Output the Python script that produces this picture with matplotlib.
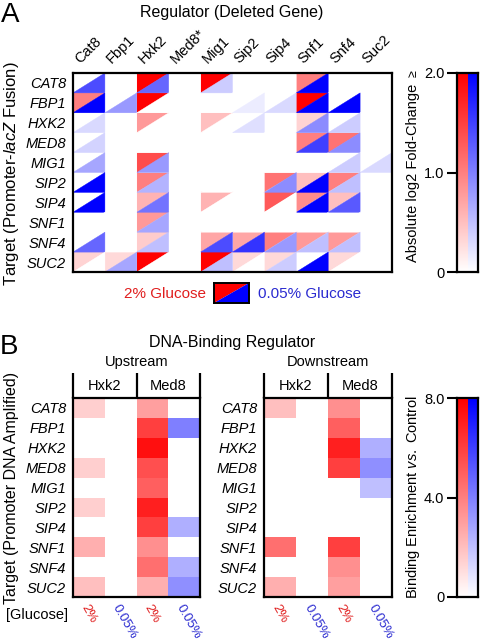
import numpy as np
import matplotlib
matplotlib.use("Agg")
import matplotlib.pyplot as plt
import matplotlib.transforms as mtrans
from matplotlib.collections import PolyCollection
from matplotlib.colors import LinearSegmentedColormap, Normalize

plt.rcParams['font.family'] = ['Liberation Sans', 'DejaVu Sans']
plt.rcParams['mathtext.fontset'] = 'custom'
plt.rcParams['mathtext.rm'] = 'Liberation Sans'
plt.rcParams['mathtext.it'] = 'Liberation Sans:italic'

# ---- panel A data: absolute log2 fold-change, rows = target, cols = deleted regulator
regulators = ['Cat8', 'Fbp1', 'Hxk2', 'Med8*', 'Mig1', 'Sip2', 'Sip4', 'Snf1', 'Snf4', 'Suc2']
targets = ['CAT8', 'FBP1', 'HXK2', 'MED8', 'MIG1', 'SIP2', 'SIP4', 'SNF1', 'SNF4', 'SUC2']

fc_2pct = [
    [0, 0, 2.0, 0, 2.0, 0, 0, 1.0, 0, 0],
    [1.0, 0, 2.0, 0, 0, 0, 0, 2.0, 0, 0],
    [0, 0, 0.8, 0, 0.5, 0, 0, 0.35, 0, 0],
    [0, 0, 0, 0, 0, 0, 0, 1.0, 1.1, 0],
    [0, 0, 1.4, 0, 0, 0, 0, 0, 0, 0],
    [0, 0, 1.0, 0, 0, 0, 1.1, 0.5, 1.0, 0],
    [0, 0, 0.6, 0, 0.6, 0, 1.3, 0.9, 0.5, 0],
    [0, 0, 0.8, 0, 0, 0, 0, 0, 0, 0],
    [0, 0, 0.4, 0, 0.7, 0.7, 1.0, 0.8, 0.8, 0],
    [0.35, 0.3, 2.0, 0, 2.0, 0.3, 0.3, 0, 0.3, 0],
]
fc_005pct = [
    [1.4, 0, 1.2, 0, 0.4, 0, 0, 2.0, 0, 0],
    [2.0, 0.8, 0, 0, 0, 0.15, 0.3, 2.0, 2.0, 0],
    [0.3, 0, 0, 0, 0, 0.25, 0, 0.9, 0.4, 0],
    [0.35, 0, 0, 0, 0, 0, 0, 1.5, 0.9, 0],
    [0.7, 0, 0.8, 0, 0, 0, 0, 0, 0.4, 0.3],
    [2.0, 0, 0.6, 0, 0, 0, 0.9, 2.0, 0.5, 0],
    [2.0, 0, 1.1, 0, 0, 0, 0, 2.0, 1.3, 0],
    [0, 0, 0.7, 0, 0, 0, 0, 0, 0, 0],
    [1.2, 0, 0.5, 0, 1.4, 1.6, 0.8, 0.5, 0.5, 0],
    [0, 0.7, 0, 0, 0.5, 0, 0.4, 2.0, 0, 0],
]

# ---- panel B data: binding enrichment vs control
up_hxk2_2 = [1.5, 0, 0, 1.5, 0, 1.5, 0, 2.5, 0, 2.0]
up_hxk2_005 = [0, 0, 0, 0, 0, 0, 0, 0, 0, 0]
up_med8_2 = [3.0, 6.0, 7.5, 5.5, 5.0, 7.0, 6.0, 3.5, 4.5, 2.5]
up_med8_005 = [0, 4.0, 0, 0, 0, 0, 2.5, 0, 2.5, 3.5]
down_hxk2_2 = [2.0, 0, 0, 0, 0, 0, 0, 4.5, 0, 2.5]
down_hxk2_005 = [0, 0, 0, 0, 0, 0, 0, 0, 0, 0]
down_med8_2 = [3.5, 5.0, 7.0, 6.0, 0, 0, 0, 6.0, 3.5, 3.0]
down_med8_005 = [0, 0, 2.5, 3.5, 2.0, 0, 0, 0, 0, 0]
glucose_labels = ['2%', '0.05%', '2%', '0.05%']

RED_TXT = '#e01e1e'
BLUE_TXT = '#2a2ad0'
reds = LinearSegmentedColormap.from_list('w_r', ['#ffffff', '#ff0000'])
blues = LinearSegmentedColormap.from_list('w_b', ['#ffffff', '#0000ff'])

W, H = 480, 643
fig = plt.figure(figsize=(W/100, H/100), dpi=100)

def px_axes(x0, y0, x1, y1):
    return fig.add_axes([x0/W, 1 - y1/H, (x1 - x0)/W, (y1 - y0)/H])

def ftext(x, y, s, **kw):
    return fig.text(x/W, 1 - y/H, s, **kw)

def set_frame(ax, lw=1.6):
    for sp in ax.spines.values():
        sp.set_linewidth(lw)
        sp.set_color('black')

def draw_colorbar(ax, vmax, ticklabels):
    grad = np.linspace(0, vmax, 256).reshape(-1, 1)
    ax.imshow(grad, cmap=reds, extent=[0, 1, 0, vmax], aspect='auto', origin='lower', vmin=0, vmax=vmax)
    ax.imshow(grad, cmap=blues, extent=[1, 2, 0, vmax], aspect='auto', origin='lower', vmin=0, vmax=vmax)
    ax.set_xlim(0, 2)
    ax.set_ylim(0, vmax)
    ax.set_xticks([])
    ax.set_yticks([0, vmax/2, vmax])
    ax.set_yticklabels(ticklabels, fontsize=10.5)
    ax.tick_params(axis='y', length=7, width=1.5, pad=2)
    set_frame(ax)

off = mtrans.ScaledTranslation(-7/100, 0, fig.dpi_scale_trans)

# ================= Panel A =================
axA = px_axes(73, 73, 392, 272)
nr, nc = len(targets), len(regulators)
upper, lower = [], []
for i in range(nr):
    for j in range(nc):
        upper.append([(j, i + 1), (j, i), (j + 1, i)])
        lower.append([(j, i + 1), (j + 1, i), (j + 1, i + 1)])
pc_r = PolyCollection(upper, cmap=reds, norm=Normalize(0, 2), edgecolors='face', linewidths=0.3)
pc_r.set_array(np.array(fc_2pct).ravel())
pc_b = PolyCollection(lower, cmap=blues, norm=Normalize(0, 2), edgecolors='face', linewidths=0.3)
pc_b.set_array(np.array(fc_005pct).ravel())
axA.add_collection(pc_r)
axA.add_collection(pc_b)
axA.set_xlim(0, nc)
axA.set_ylim(nr, 0)
axA.xaxis.tick_top()
axA.set_xticks(np.arange(nc) + 0.5)
axA.set_xticklabels(regulators, rotation=45, ha='left', va='bottom', rotation_mode='anchor', fontsize=10.5)
axA.set_yticks(np.arange(nr) + 0.5)
axA.set_yticklabels(targets, fontsize=10.5, style='italic')
axA.tick_params(length=0, pad=5)
axA.tick_params(axis='x', pad=5)
set_frame(axA)
for lbl in axA.get_xticklabels():
    lbl.set_transform(lbl.get_transform() + off)

ftext(1, 2, 'A', fontsize=20, va='top', ha='left')
ftext(232, 12, 'Regulator (Deleted Gene)', fontsize=11.5, ha='center', va='center')
ftext(12, 174, r'Target (Promoter-$\it{lacZ}$ Fusion)', fontsize=12, rotation=90, ha='center', va='center')

# legend cell
axL = px_axes(214, 283, 249, 303)
axL.add_collection(PolyCollection([[(0, 0), (0, 1), (1, 1)]], facecolors=[reds(1.0)], edgecolors='none'))
axL.add_collection(PolyCollection([[(0, 0), (1, 1), (1, 0)]], facecolors=[blues(1.0)], edgecolors='none'))
axL.set_xlim(0, 1)
axL.set_ylim(0, 1)
axL.set_xticks([])
axL.set_yticks([])
set_frame(axL, 1.4)
ftext(206, 294, '2% Glucose', color=RED_TXT, fontsize=11, ha='right', va='center')
ftext(258, 294, '0.05% Glucose', color=BLUE_TXT, fontsize=11, ha='left', va='center')

# colorbar A
cbA = px_axes(457, 73, 478, 272)
draw_colorbar(cbA, 2.0, ['0', '1.0', '2.0'])
ftext(414, 74, '≥', fontsize=9, rotation=90, ha='center', va='center')
ftext(413, 173, 'Absolute log2 Fold-Change', fontsize=10.5, rotation=90, ha='center', va='center')

# ================= Panel B =================
def draw_binding(x0, x1, cols, heading):
    ax = px_axes(x0, 398, x1, 597)
    data = np.array(cols).T  # rows x 4
    for k in range(4):
        cm = reds if k % 2 == 0 else blues
        vals = np.ma.masked_all(data.shape)
        vals[:, k] = data[:, k]
        ax.pcolormesh(np.arange(5), np.arange(nr + 1), vals, cmap=cm, vmin=0, vmax=8)
    ax.set_xlim(0, 4)
    ax.set_ylim(nr, 0)
    ax.set_yticks(np.arange(nr) + 0.5)
    ax.set_yticklabels(targets, fontsize=10.5, style='italic')
    ax.set_xticks(np.arange(4) + 0.5)
    ax.set_xticklabels(glucose_labels, rotation=-60, ha='left', va='top',
                       rotation_mode='anchor', fontsize=9.5)
    for lbl, c in zip(ax.get_xticklabels(), [RED_TXT, BLUE_TXT, RED_TXT, BLUE_TXT]):
        lbl.set_color(c)
        lbl.set_transform(lbl.get_transform() + off)
    ax.tick_params(length=0, pad=5)
    ax.tick_params(axis='x', pad=4)
    set_frame(ax)
    hdr = 1.25
    for xv in [0, 2, 4]:
        ax.plot([xv, xv], [0, -hdr], color='black', lw=1.6, clip_on=False, solid_capstyle='butt')
    ax.text(1, -hdr/2, 'Hxk2', ha='center', va='center', fontsize=10.5)
    ax.text(3, -hdr/2, 'Med8', ha='center', va='center', fontsize=10.5)
    ax.text(2, -hdr - 0.55, heading, ha='center', va='center', fontsize=10.5)
    return ax

draw_binding(73, 200, [up_hxk2_2, up_hxk2_005, up_med8_2, up_med8_005], 'Upstream')
draw_binding(264, 392, [down_hxk2_2, down_hxk2_005, down_med8_2, down_med8_005], 'Downstream')

ftext(0, 334, 'B', fontsize=20, va='top', ha='left')
ftext(232, 343, 'DNA-Binding Regulator', fontsize=11.5, ha='center', va='center')
ftext(12, 488, 'Target (Promoter DNA Amplified)', fontsize=11.5, rotation=90, ha='center', va='center')
ftext(68, 615, '[Glucose]', fontsize=10.5, ha='right', va='center')

cbB = px_axes(457, 398, 478, 597)
draw_colorbar(cbB, 8.0, ['0', '4.0', '8.0'])
ftext(413, 497, r'Binding Enrichment $\it{vs.}$ Control', fontsize=10.5, rotation=90, ha='center', va='center')

fig.savefig('out.png', dpi=100)
